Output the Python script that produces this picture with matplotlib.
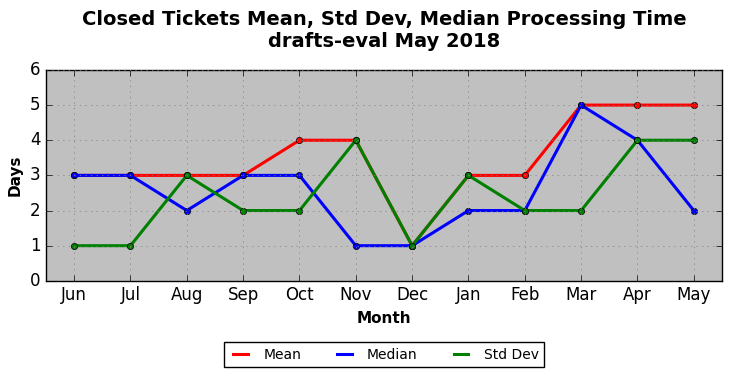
import matplotlib
matplotlib.use("Agg")
import matplotlib.pyplot as plt
from matplotlib.lines import Line2D

plt.style.use("classic")

months = ["Jun", "Jul", "Aug", "Sep", "Oct", "Nov", "Dec", "Jan", "Feb", "Mar", "Apr", "May"]
mean_days = [3, 3, 3, 3, 4, 4, 1, 3, 3, 5, 5, 5]
median_days = [3, 3, 2, 3, 3, 1, 1, 2, 2, 5, 4, 2]
std_days = [1, 1, 3, 2, 2, 4, 1, 3, 2, 2, 4, 4]

series = [("Mean", mean_days, "red"), ("Median", median_days, "blue"), ("Std Dev", std_days, "green")]

fig = plt.figure(figsize=(7.32, 3.78), dpi=100, facecolor="white")
ax = fig.add_axes([0.0628, 0.257, 0.9235, 0.558])
ax.set_facecolor("silver")

x = range(len(months))
handles = []
for name, vals, col in series:
    ax.plot(x, vals, color=col, lw=2.2, marker="o", ms=4.5)
    handles.append(Line2D([], [], color=col, lw=2.2, label=name))

ax.set_xlim(-0.5, len(months) - 0.5)
ax.set_ylim(0, 6)
ax.set_xticks(list(x))
ax.set_xticklabels(months)
ax.tick_params(labelsize=12)
ax.grid(True, color="gray", linestyle=":")
ax.set_xlabel("Month", fontsize=11, fontweight="bold")
ax.set_ylabel("Days", fontsize=11, fontweight="bold")
ax.set_title("Closed Tickets Mean, Std Dev, Median Processing Time\ndrafts-eval May 2018",
             fontsize=14, fontweight="bold", y=1.078)

# legend centred under the axes, not the figure
ax.legend(handles=handles, loc="center", bbox_to_anchor=(0.5, -0.35),
          ncol=3, fontsize=10, frameon=True, fancybox=False, handlelength=1.65,
          columnspacing=2.3, borderpad=0.4)

fig.savefig("out.png", dpi=100, facecolor="white")
